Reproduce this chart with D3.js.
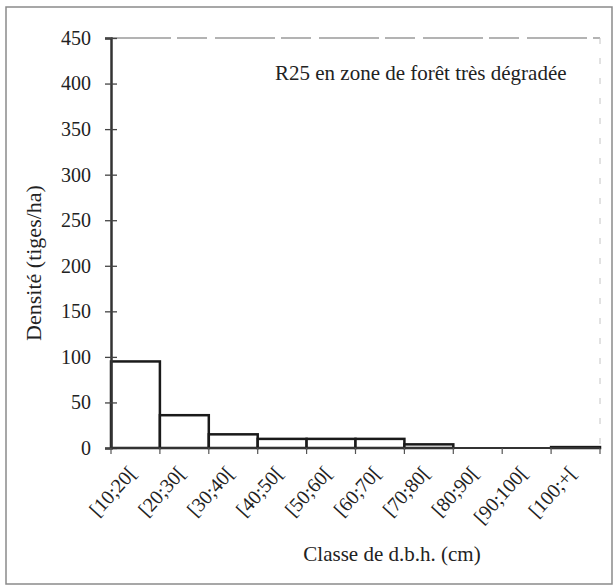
<!DOCTYPE html>
<html><head><meta charset="utf-8">
<script src="https://cdn.jsdelivr.net/npm/d3@7"></script>
</head><body style="margin:0">
<script>
const categories = ["[10;20[","[20;30[","[30;40[","[40;50[","[50;60[","[60;70[","[70;80[","[80;90[","[90;100[","[100;+["];
const densities = [95, 36, 15, 10, 10, 10, 4, 0, 0, 1];
const yTicks = [0, 50, 100, 150, 200, 250, 300, 350, 400, 450];
const annotation = "R25 en zone de forêt très dégradée";
const yTitle = "Densité (tiges/ha)";
const xTitle = "Classe de d.b.h. (cm)";

const W = 616, H = 587;
const FONT = '"Liberation Serif"';
const m = {left: 111, right: 16, top: 38, bottom: 139};
const svg = d3.select("body").append("svg").attr("width", W).attr("height", H)
  .style("display", "block").style("font-family", FONT);

svg.append("rect").attr("x", 6).attr("y", 7).attr("width", 606).attr("height", 577)
  .attr("fill", "none").attr("stroke", "#8a8a8a").attr("stroke-width", 1.5);

const x = d3.scaleBand().domain(categories).range([m.left, W - m.right]).padding(0);
const y = d3.scaleLinear().domain([0, 450]).range([H - m.bottom, m.top]);

svg.append("line").attr("x1", m.left).attr("x2", W - m.right).attr("y1", m.top).attr("y2", m.top)
  .attr("stroke", "#9a9a9a").attr("stroke-width", 1.5).attr("stroke-dasharray", "60,6,30,8");
svg.append("line").attr("x1", W - m.right).attr("x2", W - m.right).attr("y1", m.top).attr("y2", H - m.bottom)
  .attr("stroke", "#c4c4c4").attr("stroke-width", 1).attr("stroke-dasharray", "6,14");

svg.append("g").selectAll("rect").data(densities).join("rect")
  .attr("x", (d, i) => x(categories[i]))
  .attr("width", x.bandwidth())
  .attr("y", d => y(d))
  .attr("height", d => y(0) - y(d))
  .attr("fill", "#fff").attr("stroke", "#1a1a1a").attr("stroke-width", 2.5);

const yAxis = svg.append("g").attr("transform", `translate(${m.left},0)`)
  .call(d3.axisLeft(y).tickValues(yTicks).tickSize(6).tickPadding(14));
yAxis.attr("font-family", null).attr("font-size", null);
yAxis.select(".domain").attr("stroke", "#333").attr("stroke-width", 2.5);
yAxis.selectAll(".tick line").attr("x1", -6).attr("x2", 6).attr("stroke", "#444").attr("stroke-width", 1.3);
yAxis.selectAll(".tick text").style("font-family", FONT).style("font-size", "20px").attr("fill", "#222");

const edges = categories.map(c => x(c)).concat([W - m.right]);
const xg = svg.append("g");
xg.append("line").attr("x1", m.left).attr("x2", W - m.right).attr("y1", y(0)).attr("y2", y(0))
  .attr("stroke", "#333").attr("stroke-width", 2);
xg.selectAll("line.tk").data(edges).join("line").attr("class", "tk")
  .attr("x1", d => d).attr("x2", d => d).attr("y1", y(0)).attr("y2", y(0) + 6)
  .attr("stroke", "#555").attr("stroke-width", 1.2);
xg.selectAll("text").data(categories).join("text")
  .attr("transform", d => `translate(${x(d) + x.bandwidth() / 2 + 2},${y(0) + 26}) rotate(-48)`)
  .attr("text-anchor", "end").style("font-family", FONT).style("font-size", "20px").attr("fill", "#222")
  .text(d => d);

svg.append("text").attr("transform", `translate(33,263) rotate(-90)`)
  .attr("text-anchor", "middle").attr("dy", "0.35em").style("font-family", FONT).style("font-size", "22px").attr("fill", "#222")
  .text(yTitle);
svg.append("text").attr("x", 392).attr("y", 561).attr("text-anchor", "middle")
  .style("font-family", FONT).style("font-size", "21px").attr("fill", "#222").text(xTitle);
svg.append("text").attr("x", 275).attr("y", 80)
  .style("font-family", FONT).style("font-size", "21px").attr("fill", "#222").text(annotation);
</script>
</body></html>
